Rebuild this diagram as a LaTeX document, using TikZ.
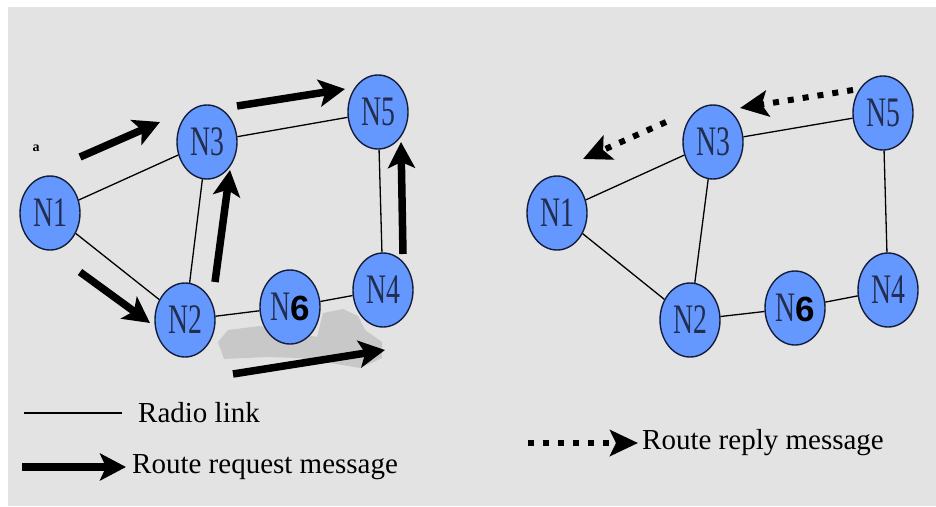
\documentclass[tikz,border=0pt]{standalone}
\usepackage{fontspec}
\setmainfont{Liberation Serif}
\newfontfamily\nodefont[FakeStretch=0.66]{Liberation Serif}
\newfontfamily\sixfont{Liberation Sans}
\usetikzlibrary{shapes.geometric,arrows.meta}
\definecolor{nodeblue}{RGB}{100,152,255}
\definecolor{panelgray}{RGB}{227,227,227}
\definecolor{smudgegray}{RGB}{200,200,200}
\definecolor{nodeline}{RGB}{20,30,60}
\definecolor{nodetext}{RGB}{35,45,80}
\tikzset{
  mnode/.style={ellipse, draw=nodeline, line width=1.4pt, fill=nodeblue,
    minimum width=60pt, minimum height=74pt, inner sep=0pt,
    font=\fontsize{42}{42}\selectfont\nodefont, text=nodetext},
  link/.style={line width=1.3pt},
  request/.style={line width=7.5pt, -{Stealth[length=26pt,width=27pt,inset=6pt]}},
  reply/.style={line width=6pt, dash pattern=on 6pt off 9pt,
    -{Stealth[length=28pt,width=26pt,inset=6pt]}},
  legend/.style={anchor=west, inner sep=0pt, font=\fontsize{29}{29}\selectfont}
}
\newcommand{\six}{{\sixfont\bfseries\color{black}\fontsize{35}{35}\selectfont 6}}
\begin{document}
\begin{tikzpicture}[x=1pt,y=-1pt]
  \useasboundingbox (0,0) rectangle (936,506);
  \fill[panelgray] (8,7) rectangle (936,506);

  % smudge under N6
  \fill[smudgegray] (218,342) -- (228,330) -- (260,326) -- (317,337) -- (323,313)
    -- (343,309) -- (358,316) -- (365,330) -- (382,342) -- (382,358)
    -- (360,368) -- (300,358) -- (267,357) -- (224,359) -- cycle;

  % request side
  \node[mnode] (l1) at (50,213) {N1};
  \node[mnode] (l3) at (207,142) {N3};
  \node[mnode] (l5) at (378,112) {N5};
  \node[mnode] (l2) at (185,320) {N2};
  \node[mnode] (l6) at (290,307) {N\six};
  \node[mnode] (l4) at (383,290) {N4};

  \draw[link] (l1) -- (l3);
  \draw[link] (l1) -- (l2);
  \draw[link] (l2) -- (l3);
  \draw[link] (l3) -- (l5);
  \draw[link] (l5) -- (l4);
  \draw[link] (l4) -- (l6);
  \draw[link] (l6) -- (l2);

  \node[font=\bfseries\fontsize{14}{14}\selectfont, inner sep=0pt] (dot) at (36,148) {a};

  \coordinate (q1a) at (80,157);  \coordinate (q1b) at (160,122);
  \coordinate (q2a) at (80,272);  \coordinate (q2b) at (150,323);
  \coordinate (q3a) at (215,282); \coordinate (q3b) at (230,170);
  \coordinate (q4a) at (237,106); \coordinate (q4b) at (345,89);
  \coordinate (q5a) at (403,254); \coordinate (q5b) at (401,142);
  \coordinate (q6a) at (233,374); \coordinate (q6b) at (385,350);

  \draw[request] (q1a) -- (q1b);
  \draw[request] (q2a) -- (q2b);
  \draw[request] (q3a) -- (q3b);
  \draw[request] (q4a) -- (q4b);
  \draw[request] (q5a) -- (q5b);
  \draw[request] (q6a) -- (q6b);

  % reply side
  \node[mnode] (r1) at (557,213) {N1};
  \node[mnode] (r3) at (713,142) {N3};
  \node[mnode] (r5) at (883,113) {N5};
  \node[mnode] (r2) at (690,320) {N2};
  \node[mnode] (r6) at (795,308) {N\six};
  \node[mnode] (r4) at (888,290) {N4};

  \draw[link] (r1) -- (r3);
  \draw[link] (r1) -- (r2);
  \draw[link] (r2) -- (r3);
  \draw[link] (r3) -- (r5);
  \draw[link] (r5) -- (r4);
  \draw[link] (r4) -- (r6);
  \draw[link] (r6) -- (r2);

  \coordinate (p1a) at (853,90);  \coordinate (p1b) at (740,108);
  \coordinate (p2a) at (666,122); \coordinate (p2b) at (583,159);

  \draw[reply] (p1a) -- (p1b);
  \draw[reply] (p2a) -- (p2b);

  % legend
  \coordinate (k1a) at (24,413);  \coordinate (k1b) at (122,413);
  \coordinate (k2a) at (22,467);  \coordinate (k2b) at (126,467);
  \coordinate (k3a) at (528,443); \coordinate (k3b) at (638,443);

  \draw[link] (k1a) -- (k1b);
  \draw[request] (k2a) -- (k2b);
  \draw[reply] (k3a) -- (k3b);

  \node[legend] (radio) at (138,413) {Radio link};
  \node[legend] (rreq) at (132,467) {Route request message};
  \node[legend] (rrep) at (642,443) {Route reply message};
\end{tikzpicture}
\end{document}
